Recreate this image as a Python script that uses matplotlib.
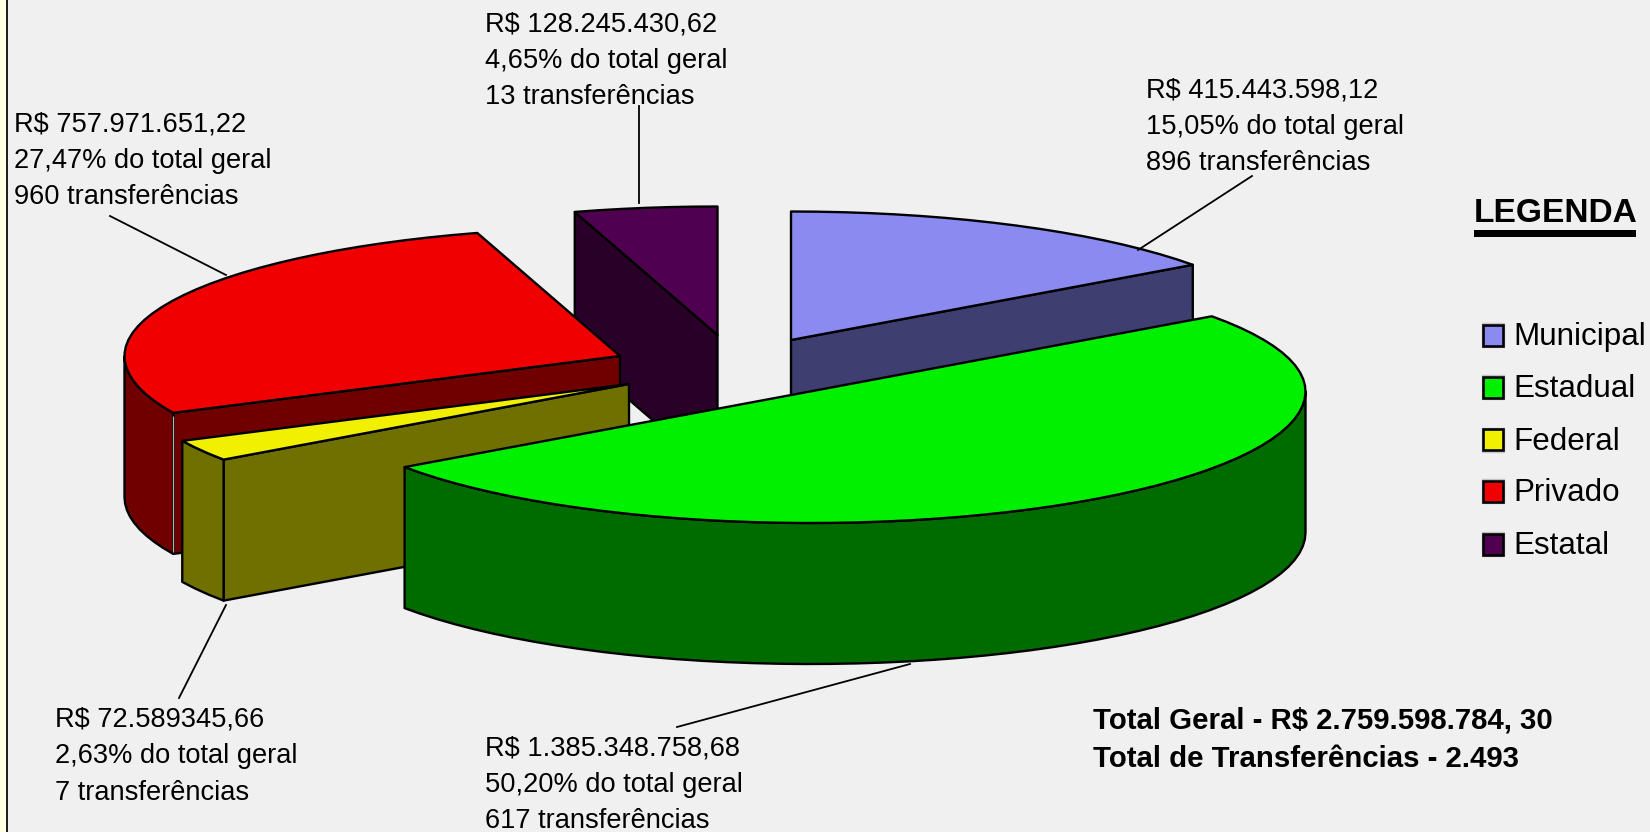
import numpy as np
import matplotlib
matplotlib.use("Agg")
import matplotlib.pyplot as plt
from matplotlib.patches import Polygon, Rectangle

plt.rcParams["font.family"] = ["Liberation Sans", "DejaVu Sans"]

# data, clockwise from 12 o'clock
categories = ["Municipal", "Estadual", "Federal", "Privado", "Estatal"]
shares = [15.05, 50.20, 2.63, 27.47, 4.65]
value_labels = [
    "R$ 415.443.598,12",
    "R$ 1.385.348.758,68",
    "R$ 72.589345,66",
    "R$ 757.971.651,22",
    "R$ 128.245.430,62",
]
transfers = [896, 617, 7, 960, 13]
total_lines = ["Total Geral - R$ 2.759.598.784, 30", "Total de Transferências - 2.493"]

top_colors = ["#8a8af0", "#00f000", "#f0f000", "#f00000", "#500050"]
side_colors = ["#3e3e70", "#006c00", "#707000", "#700000", "#280028"]

# layout in image pixels
BG = "#f0f0f0"
RX, RY_FRONT, RY_BACK, DEPTH = 495.5, 131.5, 128.5, 141
centers = [(791, 340), (810, 391.5), (629, 384), (620, 356), (717.5, 335)]
draw_order = [4, 0, 3, 2, 1]
label_pos = [(1146, 90.5), (485, 748.5), (55, 719.5), (14, 124.5), (485, 24.5)]
leaders = [
    ((1252, 176), (1138, 250)),
    ((910, 664), (677, 727)),
    ((226, 605), (179, 698)),
    ((110, 216), (226, 275)),
    ((639, 106), (639, 203)),
]
LINE_H = 36.5
SEAM_SLICE = 3


def rim(cx, cy, theta):
    t = np.radians(theta)
    c = np.cos(t)
    return cx + RX * np.sin(t), cy - np.where(c > 0, RY_BACK, RY_FRONT) * c


def arc_angles(a, b):
    # the original rim is a coarse polyline, not a smooth curve
    n = max(int(round((b - a) / 3)), 1)
    return np.linspace(a, b, n + 1)


def radial_visible(start, end, theta):
    # the cut face shows when the slice interior lies above its edge
    dx, dy = rim(0, 0, theta)
    if abs(dx) < 1e-6:
        return False
    mx, my = rim(0, 0, (start + end) / 2)
    return my < dy / dx * mx


def draw_slice(ax, center, start, end, top, side, seam=False):
    cx, cy = center
    kw = dict(edgecolor="black", linewidth=1.7, joinstyle="round")
    for theta in (start, end):
        if radial_visible(start, end, theta):
            px, py = rim(cx, cy, theta)
            pts = [(cx, cy), (px, py), (px, py + DEPTH), (cx, cy + DEPTH)]
            ax.add_patch(Polygon(pts, closed=True, facecolor=side, **kw))
    a, b = max(start, 90), min(end, 270)
    if a < b:
        x, y = rim(cx, cy, arc_angles(a, b))
        pts = np.r_[np.c_[x, y], np.c_[x, y + DEPTH][::-1]]
        ax.add_patch(Polygon(pts, closed=True, facecolor=side, **kw))
    if seam:
        px, py = rim(cx, cy, start)
        ax.plot([px, px], [py + 3, py + DEPTH - 2], color="#b4b4b4", lw=0.9, solid_capstyle="butt")
    x, y = rim(cx, cy, arc_angles(start, end))
    pts = np.r_[[(cx, cy)], np.c_[x, y]]
    ax.add_patch(Polygon(pts, closed=True, facecolor=top, **kw))


fig = plt.figure(figsize=(16.5, 8.32), dpi=100, facecolor=BG)
ax = fig.add_axes([0, 0, 1, 1])
ax.set_xlim(0, 1650)
ax.set_ylim(832, 0)
ax.axis("off")

edges = np.r_[0, np.cumsum(shares)] * 3.6
for i in draw_order:
    draw_slice(ax, centers[i], edges[i], edges[i + 1], top_colors[i], side_colors[i], seam=i == SEAM_SLICE)

for (p0, p1) in leaders:
    ax.plot([p0[0], p1[0]], [p0[1], p1[1]], color="black", lw=1.3)

for i, (x, y) in enumerate(label_pos):
    pct = f"{shares[i]:.2f}".replace(".", ",") + "% do total geral"
    lines = [value_labels[i], pct, f"{transfers[i]} transferências"]
    for k, line in enumerate(lines):
        ax.text(x, y + k * LINE_H, line, fontsize=19.6, color="black", ha="left", va="center")

# legend
ax.text(1474, 214, "LEGENDA", fontsize=24.1, fontweight="bold", ha="left", va="center")
ax.add_patch(Rectangle((1474, 230), 162, 7, facecolor="black", edgecolor="none"))
legend_y = [335, 387, 439.5, 491, 544]
for name, color, y in zip(categories, top_colors, legend_y):
    ax.add_patch(Rectangle((1481.5, y - 12), 22, 24, facecolor="none", edgecolor="#c4c4c4", linewidth=1.0))
    ax.add_patch(Rectangle((1483, y - 10.5), 19.5, 21, facecolor=color, edgecolor="black", linewidth=1.9))
    ax.text(1513, y + 2, name, fontsize=22.6, ha="left", va="center")

for y, line in zip([720.5, 759], total_lines):
    ax.text(1093, y, line, fontsize=21.2, fontweight="bold", ha="left", va="center")

# pale strip and frame line at the left edge
ax.add_patch(Rectangle((0, 0), 6, 832, facecolor="#ffffe6", edgecolor="none"))
ax.plot([7, 7], [0, 832], color="#202018", lw=1.44, solid_capstyle="butt")

fig.savefig("out.png", dpi=100, facecolor=BG)
